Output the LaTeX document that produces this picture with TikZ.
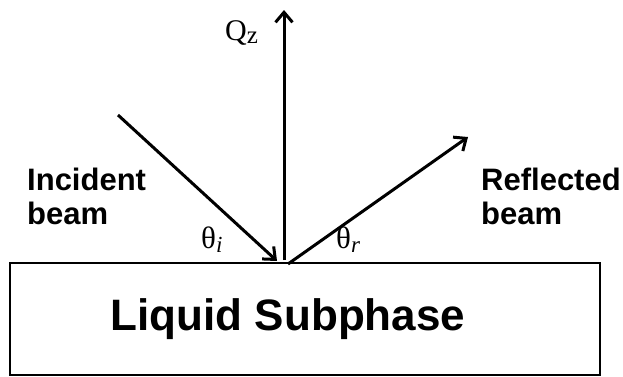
\documentclass[tikz,border=0pt]{standalone}
\usepackage{fontspec}
\setmainfont{Liberation Serif}
\newfontfamily\arialfont{Liberation Sans}
\usetikzlibrary{arrows.meta}
\begin{document}
\begin{tikzpicture}[x=1pt,y=1pt,
  beam/.style={line width=3pt,-{Straight Barb[length=10pt,width=17pt,line width=3pt]}},
  lbl/.style={font=\arialfont\bfseries\fontsize{31}{34}\selectfont,align=left,inner sep=0pt},
  greek/.style={font=\fontsize{31}{34}\selectfont,inner sep=0pt,anchor=base west}]
\useasboundingbox (0,0) rectangle (623,376);
\node[draw,line width=2.6pt,minimum width=590pt,minimum height=112pt,inner sep=0pt] (sub) at (305,57) {};
\node[font=\arialfont\bfseries\fontsize{44}{46}\selectfont,inner sep=0pt] (subl) at (288,57) {Liquid Subphase};
\coordinate (o) at (284,116);
\coordinate (top) at (284,366);
\coordinate (inc) at (118,261);
\coordinate (ref) at (468,239);
\coordinate (hit) at (277,115);
\coordinate (start) at (288,112);
\draw[beam] (o) -- (top);
\draw[beam] (inc) -- (hit);
\draw[beam] (start) -- (ref);
\node[font=\fontsize{30}{32}\selectfont,inner sep=0pt,anchor=base west] (qz) at (225,336) {Q\raisebox{-3pt}{\fontsize{25}{26}\selectfont z}};
\node[greek] (ti) at (201,128) {θ\raisebox{-4pt}{\fontsize{23}{24}\selectfont\itshape i}};
\node[greek] (tr) at (336,128) {θ\raisebox{-4pt}{\fontsize{23}{24}\selectfont\itshape r}};
\node[lbl,anchor=west] (il) at (27,180) {Incident\\beam};
\node[lbl,anchor=west] (rl) at (481,180) {Reflected\\beam};
\end{tikzpicture}
\end{document}
